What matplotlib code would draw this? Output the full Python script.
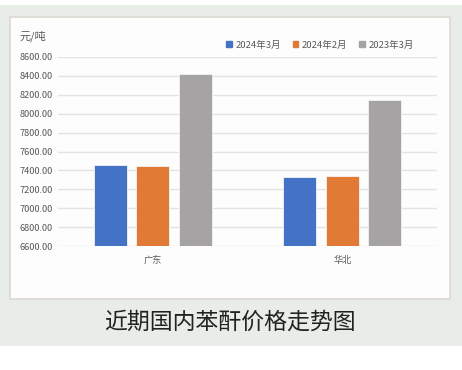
import matplotlib
matplotlib.use('Agg')
import matplotlib.pyplot as plt
from matplotlib.patches import Rectangle, Patch
import numpy as np

plt.rcParams['font.family'] = ['Noto Sans CJK SC', 'DejaVu Sans']

# datos
regions = ['广东', '华北']
series_labels = ['2024年3月', '2024年2月', '2023年3月']
mar_2024 = [7455, 7335]
feb_2024 = [7445, 7340]
mar_2023 = [8425, 8150]
series_colors = ['#4472C4', '#E07A35', '#A5A3A3']
y_ticks = [6600, 6800, 7000, 7200, 7400, 7600, 7800, 8000, 8200, 8400, 8600]

W, H = 462, 370
fig = plt.figure(figsize=(W / 100, H / 100), dpi=100, facecolor='white')

# fondo verde y panel blanco
fig.patches.append(Rectangle((0, 1 - 346 / H), 1, 341 / H, transform=fig.transFigure,
                             facecolor='#E8EDE7', edgecolor='none', zorder=0))
fig.patches.append(Rectangle((10 / W, 1 - 299 / H), 440 / W, 282 / H, transform=fig.transFigure,
                             facecolor='#FDFDFD', edgecolor='#DCD8D4', linewidth=1.2, zorder=1))

ax = fig.add_axes([58 / W, 1 - 246 / H, 379 / W, 189 / H])
ax.set_facecolor('none')
ax.set_zorder(5)

x = np.arange(len(regions))
bw = 0.174
step = 0.224
for i, (vals, lab, col) in enumerate(zip([mar_2024, feb_2024, mar_2023], series_labels, series_colors)):
    ax.bar(x + (i - 1) * step, np.array(vals) - 6600, bottom=6600, width=bw,
           color=col, edgecolor='#F2F2F2', linewidth=0.6, label=lab, zorder=3)

ax.set_xlim(-0.5, 1.5)
ax.set_ylim(6600, 8600)
ax.set_yticks(y_ticks)
ax.set_yticklabels([f'{v:.2f}' for v in y_ticks])
ax.set_xticks(x)
ax.set_xticklabels(regions)
ax.grid(axis='y', color='#E3E3E3', linewidth=1, zorder=0)
for s in ax.spines.values():
    s.set_visible(False)
ax.tick_params(axis='both', length=0, labelsize=6.6, labelcolor='#595959')
ax.tick_params(axis='y', pad=4)
ax.tick_params(axis='x', pad=7)

fig.text(20 / W, 1 - 36 / H, '元/吨', fontsize=8, color='#595959', va='center', ha='left')

handles = [Patch(color=c, label=l) for c, l in zip(series_colors, series_labels)]
fig.legend(handles=handles, loc='center', bbox_to_anchor=(320 / W, 1 - 45 / H), ncol=3,
           frameon=False, fontsize=6.8, labelcolor='#595959', handlelength=0.6,
           handleheight=0.6, handletextpad=0.4, columnspacing=1.2)

fig.text(230 / W, 1 - 322 / H, '近期国内苯酐价格走势图', fontsize=16.5, color='#222222',
         ha='center', va='center')

plt.savefig('out.png', dpi=100, facecolor='white')
